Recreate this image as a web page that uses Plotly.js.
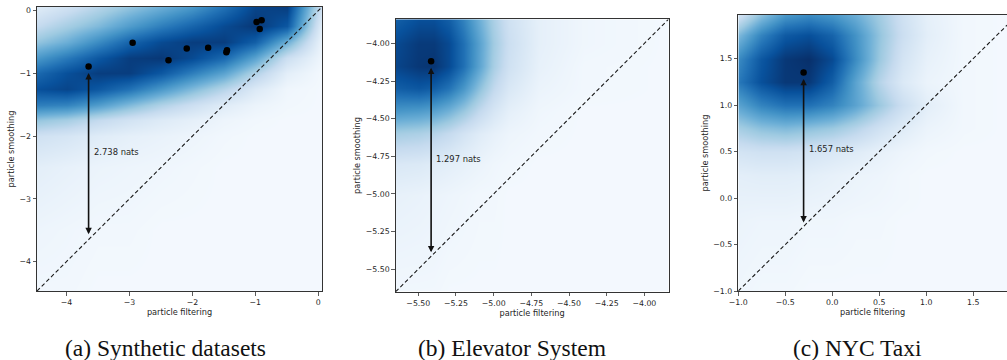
<!DOCTYPE html>
<html>
<head>
<meta charset="utf-8">
<script src="https://cdn.plot.ly/plotly-3.0.1.min.js"></script>
<style>html,body{margin:0;padding:0;overflow:hidden;background:#fff}#chart{width:1007px;height:360px}</style>
</head>
<body>
<div id="chart"></div>
<script>
// ---------- Panel (a): Synthetic datasets ----------
const aRange = [-4.47, 0.06];
const aTicks = [-4, -3, -2, -1, 0];
const aPointsX = [-3.65, -2.95, -2.38, -2.09, -1.75, -1.46, -1.45, -0.98, -0.90, -0.93];
const aPointsY = [-0.89, -0.51, -0.79, -0.60, -0.59, -0.66, -0.63, -0.18, -0.15, -0.29];
const aArrow = [-3.65, -0.89, 2.738];   // x, top y, gap (nats)
const aGridX = [-4.47, -4.0, -3.5, -3.0, -2.5, -2.0, -1.5, -1.0, -0.5, 0.06];
const aGridY = [-4.47, -3.5, -2.5, -2.0, -1.75, -1.5, -1.25, -1.0, -0.75, -0.5, -0.25, 0.06];
const aDensity = [
  [0.03,0.03,0.02,0.02,0.02,0.02,0.02,0.02,0.02,0.02],
  [0.05,0.04,0.03,0.03,0.02,0.02,0.02,0.02,0.02,0.02],
  [0.10,0.08,0.06,0.05,0.04,0.03,0.02,0.02,0.02,0.02],
  [0.20,0.17,0.12,0.09,0.07,0.05,0.03,0.02,0.02,0.02],
  [0.40,0.35,0.26,0.19,0.13,0.09,0.05,0.03,0.02,0.02],
  [0.70,0.68,0.58,0.45,0.32,0.22,0.12,0.06,0.03,0.02],
  [0.88,0.92,0.85,0.75,0.60,0.45,0.30,0.14,0.04,0.02],
  [0.78,0.88,0.95,0.95,0.85,0.70,0.55,0.32,0.10,0.02],
  [0.60,0.72,0.85,0.95,0.97,0.90,0.78,0.55,0.22,0.04],
  [0.40,0.50,0.65,0.80,0.90,0.95,0.95,0.82,0.50,0.06],
  [0.25,0.35,0.45,0.58,0.70,0.80,0.90,0.97,0.85,0.10],
  [0.12,0.20,0.30,0.40,0.50,0.60,0.75,0.92,0.95,0.20]
];

// ---------- Panel (b): Elevator System ----------
const bRange = [-5.65, -3.84];
const bTicks = [-5.5, -5.25, -5.0, -4.75, -4.5, -4.25, -4.0];
const bPointsX = [-5.415];
const bPointsY = [-4.118];
const bArrow = [-5.415, -4.118, 1.297];
const bGridX = [-5.65, -5.5, -5.4, -5.3, -5.2, -5.1, -5.0, -4.9, -4.7, -4.4, -3.84];
const bGridY = [-5.67, -5.0, -4.8, -4.6, -4.45, -4.3, -4.15, -4.0, -3.84];
const bDensity = [
  [0.03,0.03,0.03,0.02,0.02,0.02,0.02,0.02,0.02,0.02,0.02],
  [0.08,0.07,0.06,0.05,0.04,0.03,0.03,0.02,0.02,0.02,0.02],
  [0.15,0.14,0.12,0.10,0.08,0.06,0.04,0.03,0.02,0.02,0.02],
  [0.35,0.33,0.30,0.25,0.18,0.12,0.08,0.05,0.03,0.02,0.02],
  [0.60,0.58,0.55,0.48,0.38,0.26,0.16,0.09,0.04,0.02,0.02],
  [0.82,0.85,0.82,0.74,0.60,0.42,0.26,0.15,0.06,0.03,0.02],
  [0.92,0.97,0.98,0.90,0.75,0.55,0.34,0.20,0.08,0.03,0.02],
  [0.90,0.96,0.96,0.90,0.75,0.56,0.36,0.22,0.09,0.04,0.02],
  [0.82,0.88,0.88,0.82,0.68,0.50,0.33,0.20,0.09,0.04,0.02]
];

// ---------- Panel (c): NYC Taxi ----------
const cRangeX = [-1.0, 1.86];
const cRangeY = [-1.0, 1.97];
const cTicks = [-1.0, -0.5, 0.0, 0.5, 1.0, 1.5];
const cPointsX = [-0.305];
const cPointsY = [1.352];
const cArrow = [-0.305, 1.352, 1.657];
const cGridX = [-1.0, -0.75, -0.5, -0.25, 0.0, 0.25, 0.5, 0.75, 1.0, 1.4, 1.86];
const cGridY = [-1.0, -0.25, 0.0, 0.25, 0.5, 0.75, 1.0, 1.25, 1.5, 1.75, 1.97];
const cDensity = [
  [0.04,0.03,0.03,0.02,0.02,0.02,0.02,0.02,0.02,0.02,0.02],
  [0.06,0.05,0.05,0.04,0.04,0.03,0.03,0.02,0.02,0.02,0.02],
  [0.08,0.08,0.08,0.07,0.06,0.05,0.04,0.03,0.02,0.02,0.02],
  [0.10,0.11,0.11,0.10,0.08,0.06,0.05,0.03,0.02,0.02,0.02],
  [0.18,0.20,0.20,0.18,0.15,0.12,0.08,0.05,0.03,0.02,0.02],
  [0.35,0.42,0.45,0.42,0.38,0.30,0.20,0.12,0.06,0.03,0.02],
  [0.55,0.68,0.75,0.75,0.68,0.55,0.38,0.22,0.10,0.03,0.02],
  [0.72,0.88,0.97,0.97,0.82,0.55,0.30,0.14,0.06,0.03,0.02],
  [0.65,0.85,0.97,1.00,0.90,0.65,0.38,0.18,0.08,0.03,0.02],
  [0.45,0.68,0.84,0.88,0.80,0.62,0.40,0.22,0.10,0.03,0.02],
  [0.18,0.42,0.60,0.65,0.60,0.50,0.36,0.20,0.09,0.03,0.02]
];

const captions = ['(a) Synthetic datasets', '(b) Elevator System', '(c) NYC Taxi'];
const captionX = [165, 512, 857];
const xTitle = 'particle filtering';
const yTitle = 'particle smoothing';

// matplotlib "Blues"
const blues = [
  [0.0,'#f7fbff'],[0.125,'#deebf7'],[0.25,'#c6dbef'],[0.375,'#9ecae1'],
  [0.5,'#6baed6'],[0.625,'#4292c6'],[0.75,'#2171b5'],[0.875,'#08519c'],[1.0,'#08306b']
];

function heat(x, y, z, xa, ya) {
  return {type:'heatmap', x:x, y:y, z:z, xaxis:xa, yaxis:ya, colorscale:blues,
          zmin:0, zmax:1, zsmooth:'best', showscale:false, hoverinfo:'skip'};
}
function diag(rx, ry, xa, ya) {
  const lo = Math.max(rx[0], ry[0]), hi = Math.min(rx[1], ry[1]);
  return {type:'scatter', mode:'lines', x:[lo, hi], y:[lo, hi], xaxis:xa, yaxis:ya,
          line:{color:'#1a1a1a', width:1.1, dash:'4px,2.6px'}, hoverinfo:'skip'};
}
function pts(x, y, xa, ya) {
  return {type:'scatter', mode:'markers', x:x, y:y, xaxis:xa, yaxis:ya,
          marker:{color:'#000', size:6.5}, hoverinfo:'skip'};
}

const data = [
  heat(aGridX, aGridY, aDensity, 'x', 'y'),
  diag(aRange, aRange, 'x', 'y'),
  pts(aPointsX, aPointsY, 'x', 'y'),
  heat(bGridX, bGridY, bDensity, 'x2', 'y2'),
  diag(bRange, bRange, 'x2', 'y2'),
  pts(bPointsX, bPointsY, 'x2', 'y2'),
  heat(cGridX, cGridY, cDensity, 'x3', 'y3'),
  diag(cRangeX, cRangeY, 'x3', 'y3'),
  pts(cPointsX, cPointsY, 'x3', 'y3')
];

function axis(domain, range, ticks, fmt, anchor, title, mirror) {
  return {domain:domain, range:range, anchor:anchor, tickvals:ticks, tickformat:fmt,
          showline:true, mirror:mirror, linecolor:'#333', linewidth:1,
          ticks:'outside', ticklen:3.5, tickwidth:0.8, tickcolor:'#333',
          showgrid:false, zeroline:false, fixedrange:true,
          tickfont:{size:7.8, color:'#262626'},
          title:{text:title, font:{size:8.2, color:'#262626'}, standoff:3}};
}

function arrowAnn(a, xa, ya) {
  const bottom = a[1] - a[2];
  return [
    {xref:xa, yref:ya, axref:xa, ayref:ya, x:a[0], y:bottom, ax:a[0], ay:a[1],
     text:'', showarrow:true, arrowhead:2, startarrowhead:2, arrowside:'end+start',
     arrowsize:0.8, startarrowsize:0.8, arrowwidth:1.6, arrowcolor:'#111',
     standoff:4, startstandoff:5},
    {xref:xa, yref:ya, x:a[0], y:(a[1] + bottom) / 2, xanchor:'left', yanchor:'middle',
     xshift:3, text:a[2].toFixed(3) + ' nats', showarrow:false,
     font:{size:8.4, color:'#262626'}}
  ];
}

const capY = (360 - 348) / 360;
const capFont = {family:'Liberation Serif, Times New Roman, serif', size:23.5, color:'#111'};
const annotations = [].concat(
  arrowAnn(aArrow, 'x', 'y'),
  arrowAnn(bArrow, 'x2', 'y2'),
  arrowAnn(cArrow, 'x3', 'y3'),
  captions.map((t, i) => ({xref:'paper', yref:'paper', x:captionX[i] / 1007, y:capY,
     xanchor:'center', yanchor:'middle', text:t, showarrow:false, font:capFont}))
);

const layout = {
  width:1007, height:360, margin:{l:0, r:0, t:0, b:0},
  paper_bgcolor:'#fff', plot_bgcolor:'#fff', showlegend:false,
  font:{family:'DejaVu Sans, sans-serif', size:8, color:'#262626'},
  xaxis: axis([37/1007, 322/1007], aRange, aTicks, 'd', 'y', xTitle, true),
  yaxis: axis([69/360, 353/360], aRange, aTicks, 'd', 'x', yTitle, true),
  xaxis2: axis([395.7/1007, 668.5/1007], bRange, bTicks, '.2f', 'y2', xTitle, true),
  yaxis2: axis([68.3/360, 340.7/360], bRange, bTicks, '.2f', 'x2', yTitle, true),
  xaxis3: axis([738.3/1007, 1.0], cRangeX, cTicks, '.1f', 'y3', xTitle, true),
  yaxis3: axis([69/360, 345/360], cRangeY, cTicks, '.1f', 'x3', yTitle, false),
  annotations: annotations
};

Plotly.newPlot('chart', data, layout, {displayModeBar:false, staticPlot:true});
</script>
</body>
</html>
